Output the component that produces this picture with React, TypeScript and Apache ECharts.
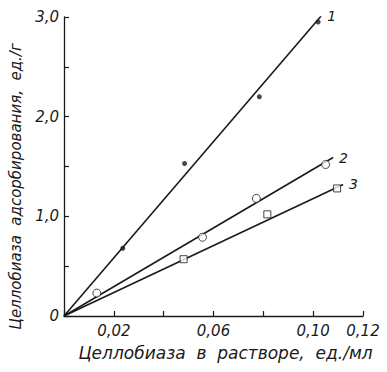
import React, { useEffect, useRef } from "react";
import * as echarts from "echarts";

const xTickLabels: Record<string, string> = { "0.02": "0,02", "0.06": "0,06", "0.1": "0,10", "0.12": "0,12" };
const yTickLabels: Record<string, string> = { "0": "0", "1": "1,0", "2": "2,0", "3": "3,0" };

const series1Points: [number, number][] = [
  [0.0236, 0.68],
  [0.0484, 1.53],
  [0.0784, 2.2],
  [0.102, 2.95],
];
const series2Points: [number, number][] = [
  [0.0132, 0.23],
  [0.0556, 0.79],
  [0.0772, 1.18],
  [0.105, 1.52],
];
const series3Points: [number, number][] = [
  [0.048, 0.57],
  [0.0816, 1.02],
  [0.1096, 1.28],
];
const fit1: [number, number][] = [[0, 0], [0.1032, 3.01]];
const fit2: [number, number][] = [[0, 0], [0.108, 1.59]];
const fit3: [number, number][] = [[0, 0], [0.112, 1.32]];
const lineLabels = ["1", "2", "3"];

const FONT = "DejaVu Sans";
const INK = "#1a1a1a";

export default function App() {
  const ref = useRef<HTMLDivElement>(null);
  useEffect(() => {
    if (!ref.current) return;
    const chart = echarts.init(ref.current, null, { renderer: "svg" });
    const fitLine = (data: [number, number][], label: string) => ({
      type: "line",
      data,
      symbol: "none",
      lineStyle: { color: INK, width: 1.6 },
      endLabel: {
        show: true,
        formatter: label,
        distance: 6,
        color: INK,
        fontFamily: FONT,
        fontStyle: "italic",
        fontSize: 14,
      },
      z: 2,
    });
    chart.setOption({
      animation: false,
      backgroundColor: "#ffffff",
      grid: { left: 62, right: 24, top: 17, bottom: 56 },
      xAxis: {
        type: "value",
        min: 0,
        max: 0.12,
        interval: 0.02,
        name: "Целлобиаза  в  растворе,  ед./мл",
        nameLocation: "middle",
        nameGap: 28,
        nameTextStyle: { color: INK, fontFamily: FONT, fontStyle: "italic", fontSize: 17, padding: [0, 0, 0, 24] },
        axisLine: { lineStyle: { color: INK, width: 1.3 } },
        axisTick: { inside: true, length: 5, lineStyle: { color: INK, width: 1.2 } },
        splitLine: { show: false },
        axisLabel: {
          color: INK,
          fontFamily: FONT,
          fontStyle: "italic",
          fontSize: 15,
          margin: 7,
          formatter: (v: number) => xTickLabels[String(Math.round(v * 100) / 100)] ?? "",
        },
      },
      yAxis: {
        type: "value",
        min: 0,
        max: 3,
        interval: 0.5,
        name: "Целлобиаза  адсорбирования,  ед./г",
        nameLocation: "middle",
        nameGap: 41,
        nameTextStyle: { color: INK, fontFamily: FONT, fontStyle: "italic", fontSize: 15, padding: [0, 40, 0, 0] },
        axisLine: { show: true, lineStyle: { color: INK, width: 1.3 } },
        axisTick: { show: true, inside: true, length: 5, lineStyle: { color: INK, width: 1.2 } },
        splitLine: { show: false },
        axisLabel: {
          color: INK,
          fontFamily: FONT,
          fontStyle: "italic",
          fontSize: 15,
          margin: 5,
          formatter: (v: number) => yTickLabels[String(v)] ?? "",
        },
      },
      series: [
        fitLine(fit1, lineLabels[0]),
        fitLine(fit2, lineLabels[1]),
        fitLine(fit3, lineLabels[2]),
        {
          type: "scatter",
          data: series1Points,
          symbol: "circle",
          symbolSize: 5,
          itemStyle: { color: INK },
          z: 3,
        },
        {
          type: "scatter",
          data: series2Points,
          symbol: "circle",
          symbolSize: 8,
          itemStyle: { color: "#ffffff", borderColor: INK, borderWidth: 1 },
          z: 3,
        },
        {
          type: "scatter",
          data: series3Points,
          symbol: "rect",
          symbolSize: 7,
          itemStyle: { color: "#ffffff", borderColor: INK, borderWidth: 1 },
          z: 3,
        },
      ],
    });
    return () => chart.dispose();
  }, []);
  return <div ref={ref} style={{ width: 387, height: 372, position: "absolute", left: 0, top: 0 }} />;
}
